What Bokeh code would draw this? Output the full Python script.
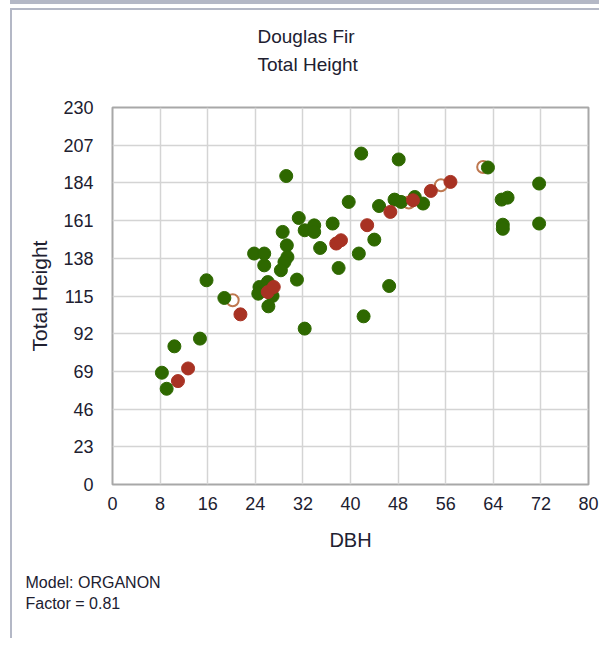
from bokeh.plotting import figure
from bokeh.models import FixedTicker, Range1d, Title
from bokeh.embed import file_html
from bokeh.resources import INLINE

# Data (DBH, Total Height)
green_dbh = [29.2, 39.7, 31.3, 32.3, 33.9, 33.9, 37.0, 28.6, 29.3, 34.9, 41.4, 23.8, 25.5,
             29.4, 25.5, 28.9, 28.3, 38.0, 31.0, 15.8, 24.7, 26.1, 24.5, 26.9, 26.2, 18.8,
             32.3, 14.7, 10.4, 8.3, 9.1, 41.8, 48.1, 44.8, 47.4, 48.5, 50.8, 52.2, 44.0,
             46.5, 42.2, 63.1, 71.7, 65.4, 66.4, 65.6, 65.6, 71.7]
green_ht = [188.2, 172.4, 162.6, 155.1, 158.1, 154.1, 159.2, 154.1, 145.9, 144.3, 140.9, 140.9, 140.9,
            138.8, 133.7, 135.7, 130.7, 132.1, 125.0, 124.6, 120.5, 123.5, 116.4, 115.0, 108.7, 113.8,
            95.1, 89.0, 84.3, 68.2, 58.4, 201.9, 198.3, 169.9, 173.8, 172.4, 175.4, 171.4, 149.4,
            121.1, 102.6, 193.4, 183.6, 173.8, 175.0, 158.5, 156.0, 159.2]

red_dbh = [37.6, 38.4, 26.1, 27.1, 21.5, 12.7, 11.0, 56.8, 53.5, 50.5, 46.7, 42.8]
red_ht = [147.0, 149.0, 117.4, 120.5, 103.8, 70.8, 63.1, 184.6, 179.1, 173.4, 166.3, 158.2]

open_dbh = [20.2, 55.2, 49.8, 62.3]
open_ht = [112.4, 182.6, 172.0, 193.7]

x_ticks = [0, 8, 16, 24, 32, 40, 48, 56, 64, 72, 80]
y_ticks = [0, 23, 46, 69, 92, 115, 138, 161, 184, 207, 230]

title_lines = ["Douglas Fir", "Total Height"]
notes = ["Model: ORGANON", "Factor = 0.81"]

FONT = "Liberation Sans"
TXT = "#202030"
BORDER = "#b4b8c6"

p = figure(width=589, height=630, output_backend="svg", toolbar_location=None,
           x_range=Range1d(0, 80), y_range=Range1d(0, 230),
           min_border_left=100, min_border_right=13, min_border_top=97, min_border_bottom=156)

p.styles = {"margin-left": "10px", "margin-top": "8px",
            "border-left": f"2px solid {BORDER}", "border-top": f"2px solid {BORDER}",
            "box-shadow": f"0 -4px 0 0 white, 0 -8px 0 0 {BORDER}"}

p.outline_line_color = "#a8a8a8"
p.outline_line_width = 2

for ax in (p.xaxis[0], p.yaxis[0]):
    ax.axis_line_color = None
    ax.major_tick_line_color = None
    ax.minor_tick_line_color = None
    ax.major_tick_out = 0
    ax.major_tick_in = 0
    ax.major_label_text_font = FONT
    ax.major_label_text_font_size = "18px"
    ax.major_label_text_color = TXT
    ax.axis_label_text_font = FONT
    ax.axis_label_text_font_size = "20px"
    ax.axis_label_text_font_style = "normal"
    ax.axis_label_text_color = TXT

p.yaxis.axis_label_text_font_size = "21px"

p.xaxis.ticker = FixedTicker(ticks=x_ticks)
p.yaxis.ticker = FixedTicker(ticks=y_ticks)
p.xaxis.axis_label = "DBH"
p.yaxis.axis_label = "Total Height"
p.xaxis.major_label_standoff = 12
p.yaxis.major_label_standoff = 19
p.xaxis.axis_label_standoff = 16
p.yaxis.axis_label_standoff = 9

p.grid.grid_line_color = "#d4d4d4"
p.grid.grid_line_width = 1.5

p.scatter(open_dbh, open_ht, size=12, fill_color="white", line_color="#be7850", line_width=2)
p.scatter(green_dbh, green_ht, size=13, fill_color="#2e6800", line_color="#2e6800")
p.scatter(red_dbh, red_ht, size=13, fill_color="#a83223", line_color="#a83223")

# trailing blank line keeps the two title lines high above the frame
p.add_layout(Title(text="\n".join(title_lines + [" "]), align="left", offset=145, standoff=10,
                   text_font=FONT, text_font_size="19px", text_font_style="normal",
                   text_line_height=1.33, text_color=TXT), "above")

p.add_layout(Title(text="\n".join(notes), align="left", offset=-87, standoff=37,
                   text_font=FONT, text_font_size="16px", text_font_style="normal",
                   text_line_height=1.21, text_color=TXT), "below")

open("out.html", "w").write(file_html(p, INLINE))
